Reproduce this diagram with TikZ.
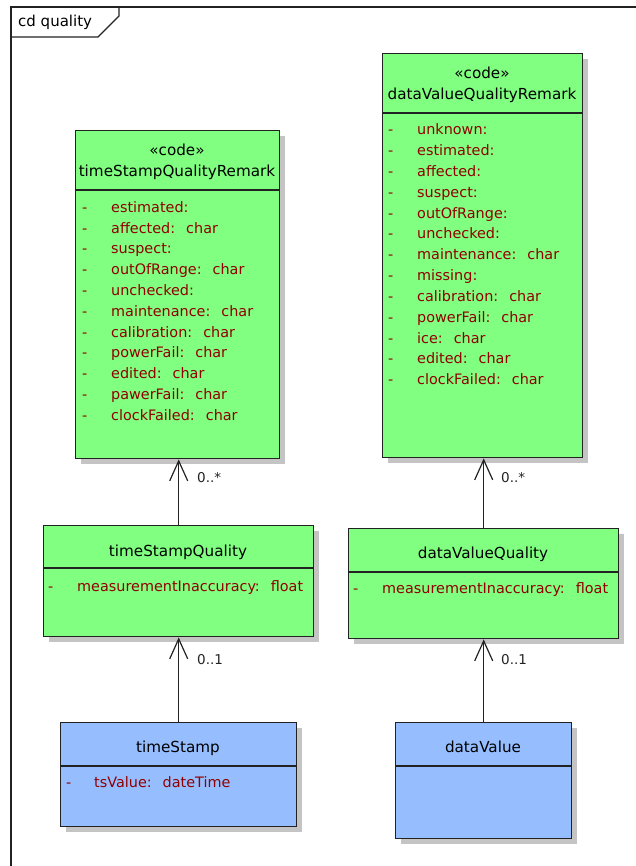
\documentclass[tikz,border=0pt]{standalone}
\usepackage{fontspec}
\setmainfont{DejaVu Sans}
\usetikzlibrary{arrows.meta,shadows}
\definecolor{clsgreen}{HTML}{80FF80}
\definecolor{clsblue}{HTML}{96BEFF}
\definecolor{attrred}{HTML}{900000}
\definecolor{edge}{HTML}{222222}
\definecolor{shade}{HTML}{C4C4C4}
\newcommand\attrtype[1]{\hspace{11pt}#1}
\tikzset{
  cls/.style={draw=edge, line width=1.4pt, inner sep=0pt, anchor=north west,
    drop shadow={shadow xshift=5pt, shadow yshift=-5pt, fill=shade, opacity=1}},
  sep/.style={draw=edge, line width=1.4pt},
  frameline/.style={draw=edge, line width=1.4pt},
  head/.style={anchor=base, inner sep=0pt, font=\fontsize{15.2}{18}\selectfont},
  attr/.style={anchor=base west, inner sep=0pt, text=attrred, font=\fontsize{14.4}{16}\selectfont},
  mult/.style={anchor=base west, inner sep=0pt, text=edge, font=\fontsize{13.5}{15}\selectfont},
  assoc/.style={draw=edge, line width=1.2pt, -{Straight Barb[length=20pt,width=18pt]}},
}
\begin{document}
\begin{tikzpicture}[x=1pt,y=-1pt]
\useasboundingbox (0,0) rectangle (636,866);

% diagram frame with its name tab
\draw[frameline] (11,866) -- (11,7) -- (636,7);
\draw[frameline] (11,37) -- (98,37) -- (119,16) -- (119,7);
\node[anchor=base west, inner sep=0pt, font=\fontsize{15}{18}\selectfont] (title) at (18,27) {cd quality};

% ---- timeStampQualityRemark
\node[cls, fill=clsgreen, minimum width=204pt, minimum height=328pt] (tsqr) at (75,130) {};
\draw[sep] ([yshift=-60pt]tsqr.north west) -- ([yshift=-60pt]tsqr.north east);
\node[head] (tsqr-st) at (177,156) {«code»};
\node[head] (tsqr-nm) at (177,177) {timeStampQualityRemark};
\foreach \t [count=\i from 0] in {estimated:, affected:\attrtype{char}, suspect:,
    outOfRange:\attrtype{char}, unchecked:, maintenance:\attrtype{char},
    calibration:\attrtype{char}, powerFail:\attrtype{char}, edited:\attrtype{char},
    pawerFail:\attrtype{char}, clockFailed:\attrtype{char}} {
  \node[attr] (tsqr-d\i) at (82,{212.3+20.8*\i}) {-};
  \node[attr] (tsqr-a\i) at (111,{212.3+20.8*\i}) {\t};
}

% ---- dataValueQualityRemark
\node[cls, fill=clsgreen, minimum width=200pt, minimum height=404pt] (dvqr) at (382,53) {};
\draw[sep] ([yshift=-60pt]dvqr.north west) -- ([yshift=-60pt]dvqr.north east);
\node[head] (dvqr-st) at (482,79) {«code»};
\node[head] (dvqr-nm) at (482,100) {dataValueQualityRemark};
\foreach \t [count=\i from 0] in {unknown:, estimated:, affected:, suspect:, outOfRange:,
    unchecked:, maintenance:\attrtype{char}, missing:, calibration:\attrtype{char},
    powerFail:\attrtype{char}, ice:\attrtype{char}, edited:\attrtype{char},
    clockFailed:\attrtype{char}} {
  \node[attr] (dvqr-d\i) at (388,{135+20.8*\i}) {-};
  \node[attr] (dvqr-a\i) at (417,{135+20.8*\i}) {\t};
}

% ---- timeStampQuality
\node[cls, fill=clsgreen, minimum width=270pt, minimum height=111pt] (tsq) at (43,525) {};
\draw[sep] ([yshift=-43pt]tsq.north west) -- ([yshift=-43pt]tsq.north east);
\node[head] (tsq-nm) at (178,556) {timeStampQuality};
\node[attr] (tsq-d0) at (48,591) {-};
\node[attr] (tsq-a0) at (77,591) {measurementInaccuracy:\attrtype{float}};

% ---- dataValueQuality
\node[cls, fill=clsgreen, minimum width=270pt, minimum height=110pt] (dvq) at (348,528) {};
\draw[sep] ([yshift=-44pt]dvq.north west) -- ([yshift=-44pt]dvq.north east);
\node[head] (dvq-nm) at (483,558) {dataValueQuality};
\node[attr] (dvq-d0) at (353,593) {-};
\node[attr] (dvq-a0) at (382,593) {measurementInaccuracy:\attrtype{float}};

% ---- timeStamp
\node[cls, fill=clsblue, minimum width=236pt, minimum height=104pt] (ts) at (60,722) {};
\draw[sep] ([yshift=-44pt]ts.north west) -- ([yshift=-44pt]ts.north east);
\node[head] (ts-nm) at (178,752) {timeStamp};
\node[attr] (ts-d0) at (66,787) {-};
\node[attr] (ts-a0) at (94,787) {tsValue:\attrtype{dateTime}};

% ---- dataValue
\node[cls, fill=clsblue, minimum width=176pt, minimum height=116pt] (dv) at (395,722) {};
\draw[sep] ([yshift=-44pt]dv.north west) -- ([yshift=-44pt]dv.north east);
\node[head] (dv-nm) at (483,752) {dataValue};

% ---- associations (open end points at the referenced class)
\draw[assoc] (tsq.north) -- (tsq.north |- tsqr.south);
\draw[assoc] (dvq.north) -- (dvq.north |- dvqr.south);
\draw[assoc] (ts.north) -- (tsq.south);
\draw[assoc] (dv.north) -- (dvq.south);
\node[mult] (m1) at (197,482) {0..*};
\node[mult] (m2) at (501,482) {0..*};
\node[mult] (m3) at (197,664) {0..1};
\node[mult] (m4) at (501,664) {0..1};
\end{tikzpicture}
\end{document}
